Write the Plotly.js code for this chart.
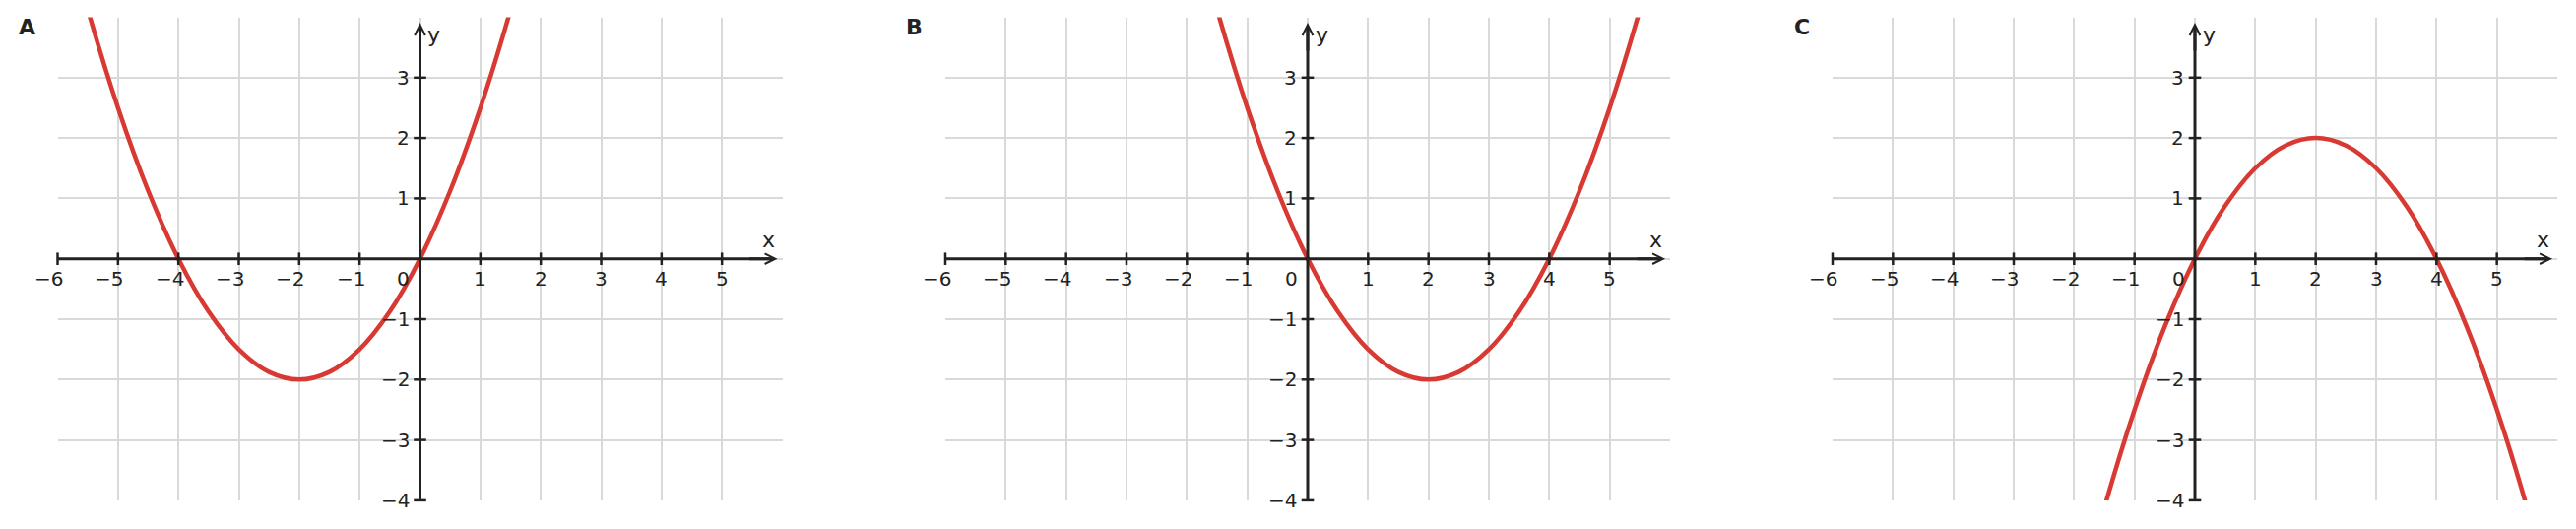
<!DOCTYPE html>
<html>
<head>
<meta charset="utf-8">
<script src="https://cdn.plot.ly/plotly-3.0.1.min.js"></script>
<style>html,body{margin:0;padding:0;background:#fff;}#chart{width:2616px;height:537px;}</style>
</head>
<body>
<div id="chart"></div>
<script>
// ---- data ----
const panelLetters = ['A', 'B', 'C'];

const xA = [-6, -5.5, -5, -4.5, -4, -3.5, -3, -2.5, -2, -1.5, -1, -0.5, 0, 0.5, 1, 1.5, 2];
const yA = [6, 4.125, 2.5, 1.125, 0, -0.875, -1.5, -1.875, -2, -1.875, -1.5, -0.875, 0, 1.125, 2.5, 4.125, 6];

const xB = [-2, -1.5, -1, -0.5, 0, 0.5, 1, 1.5, 2, 2.5, 3, 3.5, 4, 4.5, 5, 5.5, 6];
const yB = [6, 4.125, 2.5, 1.125, 0, -0.875, -1.5, -1.875, -2, -1.875, -1.5, -0.875, 0, 1.125, 2.5, 4.125, 6];

const xC = [-2, -1.5, -1, -0.5, 0, 0.5, 1, 1.5, 2, 2.5, 3, 3.5, 4, 4.5, 5, 5.5, 6];
const yC = [-6, -4.125, -2.5, -1.125, 0, 0.875, 1.5, 1.875, 2, 1.875, 1.5, 0.875, 0, -1.125, -2.5, -4.125, -6];

const gridX = [-6, -5, -4, -3, -2, -1, 0, 1, 2, 3, 4, 5];
const gridY = [-4, -3, -2, -1, 0, 1, 2, 3];
const xTickVals = [-6, -5, -4, -3, -2, -1, 1, 2, 3, 4, 5];
const yTickVals = [-4, -3, -2, -1, 1, 2, 3];
const xRange = [-6, 6];
const yRange = [-4, 4];
const xArrowTip = 5.92;
const yArrowTip = 3.91;

const curves = [[xA, yA], [xB, yB], [xC, yC]];

// ---- styling / layout ----
const W = 2616, H = 537;
const RED = '#d83a33';
const INK = '#222222';
const TXT = '#222222';
const GRID = '#d9d9d9';
const FONT = 'DejaVu Sans';
const xDomains = [[58.5 / W, 794.5 / W], [960 / W, 1696 / W], [1861 / W, 2597 / W]];
const yDomain = [(H - 507.9) / H, (H - 17.5) / H];
const letterPos = [[27, 27], [928, 27], [1830, 27]];

const fmt = v => (v < 0 ? '\u2212' + Math.abs(v) : String(v));

const traces = [];
const shapes = [];
const annotations = [];
const layout = {
  width: W, height: H,
  margin: {l: 0, r: 0, t: 0, b: 0, pad: 0},
  paper_bgcolor: '#ffffff', plot_bgcolor: 'rgba(0,0,0,0)',
  showlegend: false,
  font: {family: FONT, color: TXT}
};

for (let i = 0; i < 3; i++) {
  const sx = i === 0 ? '' : String(i + 1);
  const xa = 'x' + sx, ya = 'y' + sx;
  layout['xaxis' + sx] = {
    domain: xDomains[i], range: xRange, anchor: ya,
    tickmode: 'array', tickvals: gridX, showticklabels: false, ticks: '',
    showgrid: true, gridcolor: GRID, gridwidth: 2,
    zeroline: false, showline: false, fixedrange: true
  };
  layout['yaxis' + sx] = {
    domain: yDomain, range: yRange, anchor: xa,
    tickmode: 'array', tickvals: gridY, showticklabels: false, ticks: '',
    showgrid: true, gridcolor: GRID, gridwidth: 2,
    zeroline: false, showline: false, fixedrange: true
  };

  // the curve
  traces.push({
    type: 'scatter', mode: 'lines', x: curves[i][0], y: curves[i][1],
    xaxis: xa, yaxis: ya, hoverinfo: 'skip', cliponaxis: true,
    line: {color: RED, width: 4.5, shape: 'spline', smoothing: 1}
  });

  // axis lines
  shapes.push({type: 'line', xref: xa, yref: ya, x0: xRange[0], y0: 0, x1: xArrowTip - 0.08, y1: 0,
    layer: 'above', line: {color: INK, width: 3}});
  shapes.push({type: 'line', xref: xa, yref: ya, x0: 0, y0: yRange[0], x1: 0, y1: yArrowTip - 0.08,
    layer: 'above', line: {color: INK, width: 3}});

  // tick marks
  traces.push({
    type: 'scatter', mode: 'markers', x: xTickVals, y: xTickVals.map(() => 0),
    xaxis: xa, yaxis: ya, hoverinfo: 'skip', cliponaxis: false,
    marker: {symbol: 'line-ns', size: 9, color: INK, line: {color: INK, width: 2.5}}
  });
  traces.push({
    type: 'scatter', mode: 'markers', x: yTickVals.map(() => 0), y: yTickVals,
    xaxis: xa, yaxis: ya, hoverinfo: 'skip', cliponaxis: false,
    marker: {symbol: 'line-ew', size: 9, color: INK, line: {color: INK, width: 2.5}}
  });

  // arrow heads
  annotations.push({xref: xa, yref: ya, x: xArrowTip, y: 0, ax: -30, ay: 0, text: '',
    showarrow: true, arrowhead: 5, arrowsize: 0.7, arrowwidth: 3, arrowcolor: INK, standoff: 0});
  annotations.push({xref: xa, yref: ya, x: 0, y: yArrowTip, ax: 0, ay: 30, text: '',
    showarrow: true, arrowhead: 5, arrowsize: 0.7, arrowwidth: 3, arrowcolor: INK, standoff: 0});

  // tick labels
  xTickVals.forEach(v => annotations.push({
    xref: xa, yref: ya, x: v, y: 0, text: fmt(v), showarrow: false,
    xanchor: 'center', yanchor: 'middle', xshift: v < 0 ? -9 : 0, yshift: -20,
    font: {family: FONT, size: 20, color: TXT}
  }));
  yTickVals.forEach(v => annotations.push({
    xref: xa, yref: ya, x: 0, y: v, text: fmt(v), showarrow: false,
    xanchor: 'right', yanchor: 'middle', xshift: -9, yshift: 0,
    font: {family: FONT, size: 20, color: TXT}
  }));
  annotations.push({
    xref: xa, yref: ya, x: 0, y: 0, text: '0', showarrow: false,
    xanchor: 'center', yanchor: 'middle', xshift: -17, yshift: -20,
    font: {family: FONT, size: 20, color: TXT}
  });

  // axis names
  annotations.push({xref: xa, yref: ya, x: 5.77, y: 0.32, text: 'x', showarrow: false,
    xanchor: 'center', yanchor: 'middle', font: {family: FONT, size: 22, color: TXT}});
  annotations.push({xref: xa, yref: ya, x: 0.23, y: 3.7, text: 'y', showarrow: false,
    xanchor: 'center', yanchor: 'middle', font: {family: FONT, size: 22, color: TXT}});

  // panel letter
  annotations.push({xref: 'paper', yref: 'paper', x: letterPos[i][0] / W, y: (H - letterPos[i][1]) / H,
    text: '<b>' + panelLetters[i] + '</b>', showarrow: false, xanchor: 'center', yanchor: 'middle',
    font: {family: FONT, size: 22, color: INK}});
}

layout.shapes = shapes;
layout.annotations = annotations;

Plotly.newPlot('chart', traces, layout, {staticPlot: true, displayModeBar: false});
</script>
</body>
</html>
